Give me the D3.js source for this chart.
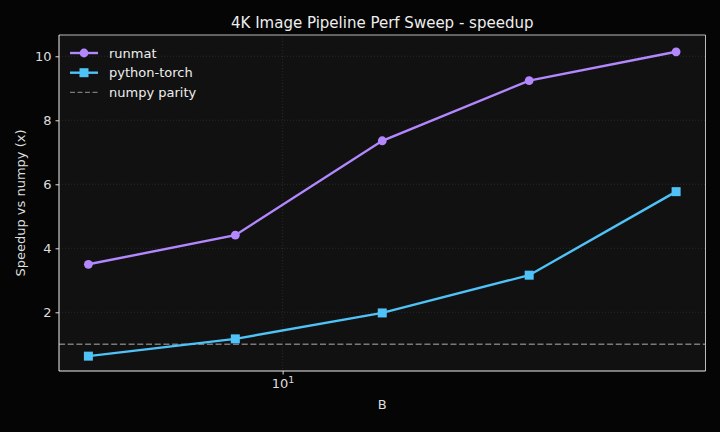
<!DOCTYPE html>
<html><head><meta charset="utf-8">
<script src="https://cdn.jsdelivr.net/npm/d3@7"></script>
<style>html,body{margin:0;padding:0;background:#050505;}svg{display:block;font-family:"DejaVu Sans",sans-serif;}</style>
</head><body>
<svg id="c" width="720" height="432"></svg>
<script>
const batchSizes = [4, 8, 16, 32, 64];
const runmat = [3.50, 4.41, 7.36, 9.24, 10.14];
const pythonTorch = [0.63, 1.17, 1.98, 3.16, 5.77];
const parity = 1;
const yTicks = [2, 4, 6, 8, 10];
const xTicks = [10];

const svg = d3.select("#c");
const W = 720, H = 432;
const m = {l: 59, r: 705.5, t: 35, b: 371};
svg.append("rect").attr("width", W).attr("height", H).attr("fill", "#050505");

const x = d3.scaleLog().domain([4 / Math.pow(2, 0.2), 64 * Math.pow(2, 0.2)]).range([m.l, m.r]);
const y = d3.scaleLinear().domain([0.166, 10.665]).range([m.b, m.t]);

svg.append("rect").attr("x", m.l).attr("y", m.t).attr("width", m.r - m.l).attr("height", m.b - m.t).attr("fill", "#111111");

// grid
const g = svg.append("g");
g.selectAll("line.gy").data(yTicks).join("line")
  .attr("x1", m.l).attr("x2", m.r).attr("y1", d => y(d)).attr("y2", d => y(d))
  .attr("stroke", "#2e2e2e").attr("stroke-width", 0.8).attr("stroke-dasharray", "1,2");
g.selectAll("line.gx").data(xTicks).join("line")
  .attr("y1", m.t).attr("y2", m.b).attr("x1", d => x(d)).attr("x2", d => x(d))
  .attr("stroke", "#2e2e2e").attr("stroke-width", 0.8).attr("stroke-dasharray", "1,2");

// parity line
svg.append("line").attr("x1", m.l).attr("x2", m.r).attr("y1", y(parity)).attr("y2", y(parity))
  .attr("stroke", "#7a7a7a").attr("stroke-width", 1.5).attr("stroke-dasharray", "6,2.7");

const line = d3.line().x((d, i) => x(batchSizes[i])).y(d => y(d));
const cRun = "#b388ff", cTorch = "#4fc3f7";
svg.append("path").datum(runmat).attr("d", line).attr("fill", "none").attr("stroke", cRun).attr("stroke-width", 2.4);
svg.selectAll("circle.r").data(runmat).join("circle")
  .attr("cx", (d, i) => x(batchSizes[i])).attr("cy", d => y(d)).attr("r", 4.4).attr("fill", cRun);
svg.append("path").datum(pythonTorch).attr("d", line).attr("fill", "none").attr("stroke", cTorch).attr("stroke-width", 2.4);
svg.selectAll("rect.t").data(pythonTorch).join("rect")
  .attr("x", (d, i) => x(batchSizes[i]) - 4.5).attr("y", d => y(d) - 4.5).attr("width", 9).attr("height", 9).attr("fill", cTorch);

// spines
svg.append("line").attr("x1", m.l).attr("x2", m.r).attr("y1", m.t).attr("y2", m.t).attr("stroke", "#bbbbbb").attr("stroke-width", 1);
svg.append("line").attr("x1", m.r).attr("x2", m.r).attr("y1", m.t).attr("y2", m.b).attr("stroke", "#bbbbbb").attr("stroke-width", 1);
svg.append("line").attr("x1", m.l).attr("x2", m.l).attr("y1", m.t).attr("y2", m.b).attr("stroke", "#f0f0f0").attr("stroke-width", 1);
svg.append("line").attr("x1", m.l).attr("x2", m.r).attr("y1", m.b).attr("y2", m.b).attr("stroke", "#f0f0f0").attr("stroke-width", 1);

// axes
const yAxis = svg.append("g").attr("transform", `translate(${m.l},0)`)
  .call(d3.axisLeft(y).tickValues(yTicks).tickSize(3.5).tickPadding(4).tickFormat(d3.format("d")));
yAxis.select(".domain").remove();
yAxis.selectAll("line").attr("stroke", "#dddddd");
yAxis.selectAll("text").attr("fill", "#dddddd").attr("font-size", 13).attr("font-family", "DejaVu Sans");

const xAxis = svg.append("g").attr("transform", `translate(0,${m.b})`)
  .call(d3.axisBottom(x).tickValues(xTicks).tickSize(3.5).tickPadding(4).tickFormat(() => ""));
xAxis.select(".domain").remove();
xAxis.selectAll("line").attr("stroke", "#dddddd");
xAxis.selectAll(".tick").each(function(d) {
  const t = d3.select(this).select("text").attr("fill", "#dddddd").attr("font-size", 13).attr("font-family", "DejaVu Sans").attr("dy", "0.71em");
  t.append("tspan").text("10");
  t.append("tspan").text(Math.round(Math.log10(d))).attr("font-size", 9.5).attr("dy", "-0.45em");
});

// labels
svg.append("text").attr("x", (m.l + m.r) / 2).attr("y", 409).attr("text-anchor", "middle")
  .attr("fill", "#dddddd").attr("font-size", 13).text("B");
svg.append("text").attr("transform", `translate(25,${(m.t + m.b) / 2}) rotate(-90)`).attr("text-anchor", "middle")
  .attr("fill", "#dddddd").attr("font-size", 13).text("Speedup vs numpy (x)");
svg.append("text").attr("x", (m.l + m.r) / 2).attr("y", 28).attr("text-anchor", "middle")
  .attr("fill", "#eeeeee").attr("font-size", 15).text("4K Image Pipeline Perf Sweep - speedup");

// legend
const legendItems = [
  {label: "runmat", color: cRun, type: "circle"},
  {label: "python-torch", color: cTorch, type: "square"},
  {label: "numpy parity", color: "#7a7a7a", type: "dash"}
];
const lg = svg.append("g");
legendItems.forEach((it, i) => {
  const yy = 53 + i * 19.7;
  if (it.type === "dash") {
    lg.append("line").attr("x1", 70).attr("x2", 98).attr("y1", yy).attr("y2", yy)
      .attr("stroke", it.color).attr("stroke-width", 1.3).attr("stroke-dasharray", "5,2.5");
  } else {
    lg.append("line").attr("x1", 70).attr("x2", 98).attr("y1", yy).attr("y2", yy)
      .attr("stroke", it.color).attr("stroke-width", 2.4);
    if (it.type === "circle") lg.append("circle").attr("cx", 84).attr("cy", yy).attr("r", 4.4).attr("fill", it.color);
    else lg.append("rect").attr("x", 79.5).attr("y", yy - 4.5).attr("width", 9).attr("height", 9).attr("fill", it.color);
  }
  lg.append("text").attr("x", 109).attr("y", yy).attr("dy", "0.35em").attr("fill", "#eeeeee").attr("font-size", 13).text(it.label);
});
</script>
</body></html>
